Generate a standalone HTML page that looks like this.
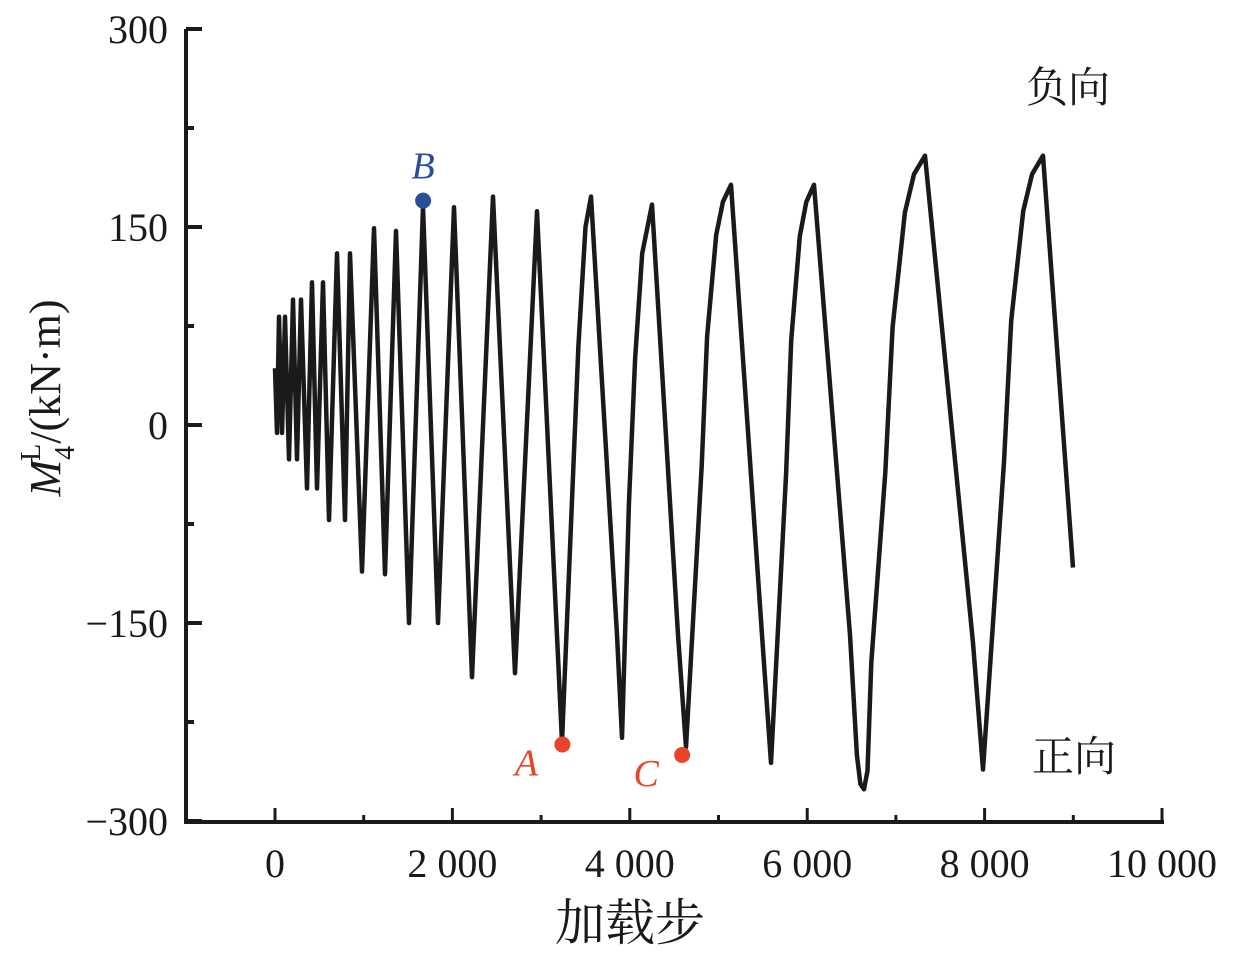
<!DOCTYPE html>
<html><head><meta charset="utf-8"><style>
html,body{margin:0;padding:0;background:#fff;}
svg{display:block;}
text{font-family:"Liberation Serif","Noto Serif CJK SC",serif;fill:#1a1a1a;}
</style></head><body>
<svg id="chart" width="1233" height="962" viewBox="0 0 1233 962" xmlns="http://www.w3.org/2000/svg">
<g id="axes"></g>
<path id="series" fill="none" stroke="#1a1a1a" stroke-width="4.5" stroke-linejoin="round"></path>
<g id="marks"></g>
<text x="1068" y="102" font-size="42" text-anchor="middle">负向</text>
<text x="1074" y="771" font-size="42" text-anchor="middle">正向</text>
<text x="630" y="940" font-size="50" text-anchor="middle">加载步</text>
<text transform="translate(60,398) rotate(-90)" font-size="44" text-anchor="middle"><tspan font-style="italic">M</tspan><tspan font-size="28" dy="14">4</tspan><tspan font-size="28" dx="-15" dy="-34">L</tspan><tspan dy="20">/(kN·m)</tspan></text>
</svg>
<script>
const xTicks = [0, 2000, 4000, 6000, 8000, 10000];
const xTickLabels = ["0", "2 000", "4 000", "6 000", "8 000", "10 000"];
const yTicks = [-300, -150, 0, 150, 300];
const yTickLabels = ["\u2212300", "\u2212150", "0", "150", "300"];
const steps = [0,23,45,79,113,158,203,248,293,361,417,474,541,609,699,789,846,981,1116,1240,1364,1511,1669,1838,2018,2221,2458,2706,2954,3236,3420,3500,3563,3856,3912,3990,4060,4140,4250,4543,4634,4811,4872,4974,5050,5141,5490,5592,5762,5820,5917,5990,6077,6483,6560,6600,6640,6680,6723,6881,6963,7101,7204,7328,7869,7982,8219,8300,8435,8536,8658,8997];
const values = [43,-6,82,-6,82,-26,95,-26,95,-48,108,-48,108,-72,130,-72,130,-111,149,-113,147,-150,165,-150,165,-191,173,-188,162,-240,60,150,173,-159,-237,-60,50,130,167,-159,-244,-31,67,144,169,182,-159,-256,-37,64,143,169,182,-159,-250,-272,-276,-262,-180,-36,74,161,190,204,-165,-261,-28,79,162,190,204,-108];
const markerSteps = [1670, 3240, 4590];
const markerValues = [170, -242, -250];
const markerNames = ["B", "A", "C"];
const markerColors = ["#2a4f96", "#e8442a", "#e8442a"];

const X0 = 275, X1 = 1162, Y0 = 425, YTOP = 29, YBOT = 822, AXL = 186;
function xs(v){ return X0 + (v/10000)*(X1-X0); }
function ys(v){ return Y0 - v*(Y0-YTOP)/300; }
const NS = "http://www.w3.org/2000/svg";
const axes = document.getElementById('axes');
function el(tag, attrs, parent){ const e=document.createElementNS(NS,tag); for(const k in attrs) e.setAttribute(k,attrs[k]); parent.appendChild(e); return e; }

const yAxis = el('line',{x1:AXL,y1:YTOP,x2:AXL,y2:YBOT+2,stroke:'#1a1a1a','stroke-width':4},axes);


const xAxis = el('line',{x1:AXL-2,y1:YBOT,x2:X1+2,y2:YBOT,stroke:'#1a1a1a','stroke-width':4},axes);



yTicks.forEach((t,i)=>{
  const y = ys(t);
  const tk = el('line',{x1:AXL,y1:y,x2:AXL+16,y2:y,stroke:'#1a1a1a','stroke-width':4},axes);
  
  
  const lb = el('text',{x:168,y:y+14,'font-size':40,'text-anchor':'end'},axes);
  lb.textContent = yTickLabels[i];
  
  
  if(i<yTicks.length-1){
    const ym = ys(t+75);
    const mt = el('line',{x1:AXL,y1:ym,x2:AXL+8,y2:ym,stroke:'#1a1a1a','stroke-width':4},axes);
    
    
  }
});
xTicks.forEach((t,i)=>{
  const x = xs(t);
  const tk = el('line',{x1:x,y1:YBOT,x2:x,y2:YBOT-14,stroke:'#1a1a1a','stroke-width':3},axes);
  
  
  const lb = el('text',{x:x,y:877,'font-size':40,'text-anchor':'middle'},axes);
  lb.textContent = xTickLabels[i];
  
  
  if(i<xTicks.length-1){
    const xm = xs(t+1000);
    const mt = el('line',{x1:xm,y1:YBOT,x2:xm,y2:YBOT-7,stroke:'#1a1a1a','stroke-width':3},axes);
    
    
  }
});

let d = '';
steps.forEach((s,i)=>{ d += (i?'L':'M') + xs(s).toFixed(1) + ' ' + ys(values[i]).toFixed(1) + ' '; });
document.getElementById('series').setAttribute('d', d);

const marks = document.getElementById('marks');
markerSteps.forEach((s,i)=>{
  const c = el('circle',{cx:xs(s),cy:ys(markerValues[i]),r:8,fill:markerColors[i]},marks);
  
  
  const above = markerValues[i] > 0;
  const t = el('text',{x: above ? xs(s) : xs(s)-36, y: above ? ys(markerValues[i])-22 : ys(markerValues[i])+31,'font-size':38,'font-style':'italic','text-anchor':'middle',style:'fill:'+markerColors[i]},marks);
  t.textContent = markerNames[i];
  
  
});
</script>
</body></html>
